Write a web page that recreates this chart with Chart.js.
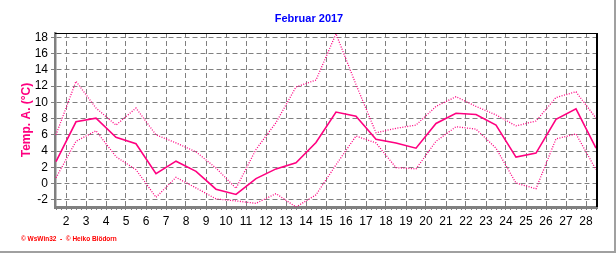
<!DOCTYPE html>
<html>
<head>
<meta charset="utf-8">
<script src="https://cdn.jsdelivr.net/npm/chart.js@4/dist/chart.umd.min.js"></script>
<style>
  html, body { margin: 0; padding: 0; background: #fff; }
  canvas { display: block; }
</style>
</head>
<body>
<canvas id="tempChart" width="616" height="253"></canvas>
<script>
// Februar 2017, Temp. A.
const chartTitle = 'Februar 2017';
const yTitle = 'Temp. A. (°C)';
const footerText = '© WsWin32  -  © Heiko Blödorn';

const days = [1.5, 2.5, 3.5, 4.5, 5.5, 6.5, 7.5, 8.5, 9.5, 10.5, 11.5, 12.5, 13.5, 14.5,
  15.5, 16.5, 17.5, 18.5, 19.5, 20.5, 21.5, 22.5, 23.5, 24.5, 25.5, 26.5, 27.5, 28.5];
const dayLabels = [2, 3, 4, 5, 6, 7, 8, 9, 10, 11, 12, 13, 14, 15, 16, 17, 18, 19, 20,
  21, 22, 23, 24, 25, 26, 27, 28];
const yTickValues = [-2, 0, 2, 4, 6, 8, 10, 12, 14, 16, 18];

const meanTemps = [2.7, 7.6, 8.05, 5.7, 4.9, 1.2, 2.75, 1.5, -0.7, -1.35, 0.6, 1.8, 2.55, 5.05,
  8.8, 8.3, 5.45, 5.0, 4.35, 7.4, 8.65, 8.5, 7.2, 3.25, 3.75, 7.9, 9.2, 4.35];
const minTemps = [0.7, 5.2, 6.5, 3.3, 1.7, -1.7, 0.75, -0.55, -1.9, -2.15, -2.45, -1.25, -2.9, -1.4,
  2.3, 5.85, 5.0, 1.95, 1.8, 5.2, 7.0, 6.7, 4.35, 0.05, -0.65, 5.5, 6.1, 1.7];
const maxTemps = [6.0, 12.6, 9.3, 7.2, 9.3, 6.0, 5.0, 3.9, 1.9, -0.6, 4.2, 7.5, 11.9, 12.75,
  18.45, 12.2, 6.25, 6.8, 7.2, 9.5, 10.7, 9.5, 8.45, 7.1, 7.7, 10.6, 11.3, 8.05];

const magenta = '#ff0080';
const gridGray = '#808080';

const toPoints = (vals) => days.map((d, i) => ({ x: d, y: vals[i] }));

// title, footer, frame
const decor = {
  id: 'decor',
  afterDraw(chart) {
    const { ctx, chartArea: a } = chart;
    ctx.save();
    ctx.setLineDash([]);
    ctx.strokeStyle = '#000';
    ctx.lineWidth = 1;
    ctx.beginPath();
    ctx.moveTo(a.left, a.top + 0.5);
    ctx.lineTo(a.right, a.top + 0.5);
    ctx.stroke();
    ctx.lineWidth = 2;
    ctx.beginPath();
    ctx.moveTo(a.right, a.top);
    ctx.lineTo(a.right, a.bottom);
    ctx.stroke();

    ctx.strokeStyle = '#a0a0a0';
    ctx.beginPath();
    ctx.moveTo(615, 0);
    ctx.lineTo(615, 252);
    ctx.lineTo(0, 252);
    ctx.stroke();

    ctx.fillStyle = '#0000ff';
    ctx.font = 'bold 11px "Liberation Sans", Arial, sans-serif';
    ctx.textAlign = 'center';
    ctx.textBaseline = 'middle';
    ctx.fillText(chartTitle, 309, 19);

    ctx.fillStyle = '#ff0000';
    ctx.font = 'bold 6.5px "Liberation Sans", Arial, sans-serif';
    ctx.textAlign = 'left';
    ctx.fillText(footerText, 21, 239);
    ctx.restore();
  }
};

const ctx = document.getElementById('tempChart');

new Chart(ctx, {
  type: 'line',
  data: {
    datasets: [
      {
        label: 'Max',
        data: toPoints(maxTemps),
        borderColor: magenta,
        borderWidth: 1.3,
        borderDash: [1, 1.5],
        pointRadius: 0,
        tension: 0
      },
      {
        label: 'Mittel',
        data: toPoints(meanTemps),
        borderColor: magenta,
        borderWidth: 1.6,
        pointRadius: 0,
        tension: 0
      },
      {
        label: 'Min',
        data: toPoints(minTemps),
        borderColor: magenta,
        borderWidth: 1.3,
        borderDash: [1, 1.5],
        pointRadius: 0,
        tension: 0
      }
    ]
  },
  options: {
    responsive: false,
    animation: false,
    layout: {
      padding: { left: 0, top: 33, right: 19, bottom: 0 }
    },
    plugins: {
      legend: { display: false },
      tooltip: { enabled: false }
    },
    scales: {
      x: {
        type: 'linear',
        min: 1.45,
        max: 28.55,
        afterBuildTicks: (scale) => {
          const t = [];
          for (let v = 1.5; v <= 28.5; v += 0.25) t.push({ value: v });
          scale.ticks = t;
        },
        afterFit: (scale) => { scale.height = 46; },
        ticks: {
          autoSkip: false,
          maxRotation: 0,
          padding: 4,
          color: '#000',
          font: { family: '"Liberation Sans", Arial, sans-serif', size: 12 },
          callback: (value) => dayLabels.includes(value) ? String(value) : ''
        },
        grid: {
          color: (c) => (c.tick && Number.isInteger(c.tick.value)) ? gridGray : 'rgba(0,0,0,0)',
          tickColor: gridGray,
          tickLength: 3,
          lineWidth: 1
        },
        border: { color: gridGray, width: 3, dash: [5, 3] }
      },
      y: {
        min: -2.9,
        max: 18.55,
        afterBuildTicks: (scale) => {
          scale.ticks = yTickValues.map(v => ({ value: v }));
        },
        afterFit: (scale) => { scale.width = 55; },
        ticks: {
          padding: 3,
          color: '#000',
          font: { family: '"Liberation Sans", Arial, sans-serif', size: 12 }
        },
        grid: {
          color: gridGray,
          tickColor: gridGray,
          tickLength: 4,
          lineWidth: 1
        },
        border: { color: gridGray, width: 2.5, dash: [5, 3] },
        title: {
          display: true,
          text: yTitle,
          color: magenta,
          font: { family: '"Liberation Sans", Arial, sans-serif', size: 12, weight: 'bold' },
          padding: { top: 19, bottom: 0 }
        }
      }
    }
  },
  plugins: [decor]
});
</script>
</body>
</html>
